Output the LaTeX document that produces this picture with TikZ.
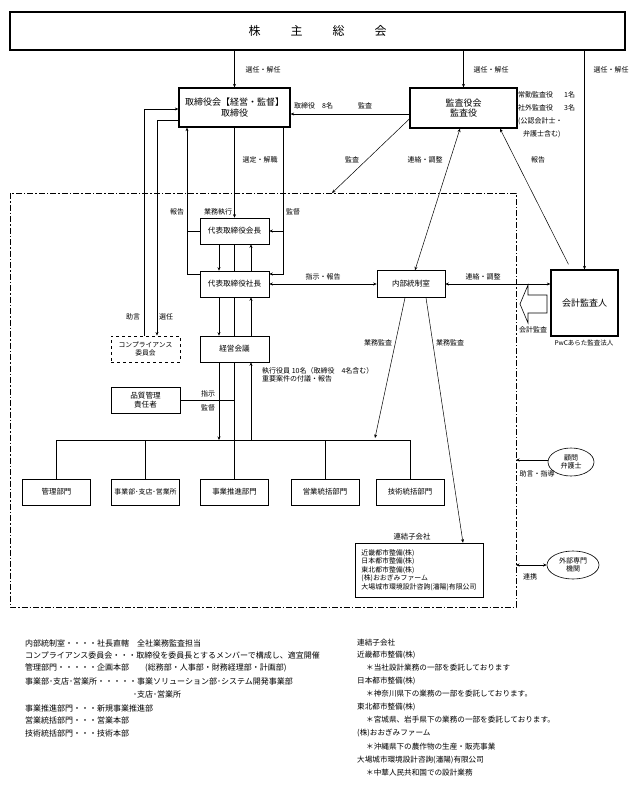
\documentclass[tikz,border=0pt]{standalone}
\usepackage{fontspec}
\setmainfont{Noto Sans CJK JP}
\usetikzlibrary{arrows.meta,shapes.geometric,calc}
\tikzset{
  box/.style={draw, line width=0.6pt, fill=white, minimum width=69pt, minimum height=26pt, inner sep=1pt, align=center, font=\fontsize{7.6}{9}\selectfont},
  tbox/.style={draw, line width=1.3pt, fill=white, inner sep=1pt, align=center, font=\fontsize{9}{10.5}\selectfont},
  dept/.style={box, minimum width=68pt, font=\fontsize{7.4}{9}\selectfont},
  lbl/.style={font=\fontsize{7}{8.5}\selectfont, inner sep=0pt},
  note/.style={font=\fontsize{7.6}{9}\selectfont, inner sep=0pt, anchor=west},
  lnote/.style={note, font=\fontsize{8}{9}\selectfont},
  arr/.style={-{Stealth[length=3.5pt,width=3pt]}, line width=0.5pt},
  arrr/.style={{Stealth[length=3.5pt,width=3pt]}-{Stealth[length=3.5pt,width=3pt]}, line width=0.5pt},
  ln/.style={line width=0.6pt},
  dashdotbox/.style={line width=0.9pt, dash pattern=on 6pt off 2pt on 1.5pt off 2pt},
  ell/.style={ellipse, draw, line width=0.6pt, fill=white, inner sep=0pt, align=center, font=\fontsize{7}{8.5}\selectfont}
}
\begin{document}
\begin{tikzpicture}[x=1pt,y=-1pt]
\useasboundingbox (0,0) rectangle (637,785);

% big dash-dot frame
\draw[dashdotbox] (10,193) rectangle (516,607);

% main nodes
\node[tbox, line width=1.5pt, minimum width=615pt, minimum height=38pt, font=\fontsize{12}{14}\selectfont] (sh) at (317.5,31) {株\hspace{30pt}主\hspace{30pt}総\hspace{30pt}会};
\node[tbox, minimum width=111pt, minimum height=39pt] (tb) at (234.5,107.5) {取締役会【経営・監督】\\取締役};
\node[tbox, minimum width=107pt, minimum height=40pt] (ka) at (463.5,108) {監査役会\\監査役};
\node[box] (kaicho) at (234.5,231) {代表取締役会長};
\node[box] (shacho) at (234.5,284) {代表取締役社長};
\node[box] (keiei) at (234.5,349) {経営会議};
\node[box, dashed, line width=0.9pt, font=\fontsize{6.8}{8.5}\selectfont] (comp) at (145.5,349) {コンプライアンス\\委員会};
\node[box] (hin) at (145.5,400) {品質管理\\責任者};
\node[box, minimum width=68pt, minimum height=27pt] (naibu) at (411,284) {内部統制室};
\node[tbox, minimum width=67pt, minimum height=66pt] (kaikei) at (584.5,303) {会計監査人};

% departments
\node[dept] (d1) at (56.5,492) {管理部門};
\node[dept, font=\fontsize{6.9}{9}\selectfont] (d2) at (145.5,492) {事業部･支店･営業所};
\node[dept] (d3) at (234.5,492) {事業推進部門};
\node[dept] (d4) at (325,492) {営業統括部門};
\node[dept] (d5) at (410,492) {技術統括部門};

% subsidiaries
\node[lbl, font=\fontsize{7.4}{9}\selectfont] (rent) at (412,537) {連結子会社};
\node[draw, line width=0.6pt, fill=white, minimum width=128pt, minimum height=54pt, align=left, inner sep=2pt, font=\fontsize{6.9}{8.4}\selectfont] (ren) at (419,570) {近畿都市整備(株)\\日本都市整備(株)\\東北都市整備(株)\\(株)おおぎみファーム\\大場城市環境設計咨詢(瀋陽)有限公司};

% ellipses
\node[ell, minimum width=46pt, minimum height=28pt] (komon) at (571,462) {顧問\\弁護士};
\node[ell, minimum width=52pt, minimum height=28pt] (gaibu) at (573,565) {外部専門\\機関};

% ---- connectors ----
% from shareholders meeting
\draw[arr] (sh.south -| tb.north) -- (tb.north);
\node[lbl] at (263,70) {選任・解任};
\draw[arr] (sh.south -| ka.north) -- (ka.north);
\node[lbl] at (491,70) {選任・解任};
\draw[arr] (sh.south -| kaikei.north) -- (kaikei.north);
\node[lbl] at (611,70) {選任・解任};

% audit board -> board
\draw[arr] ([yshift=-6pt]ka.west) -- ([yshift=-6pt]ka.west -| tb.east);
\node[lbl, anchor=west] at (294,106) {取締役　8名};
\node[lbl] at (365,106) {監査};

% audit board notes
\node[lbl, anchor=west] at (518,95) {常勤監査役\hspace{11pt}1名};
\node[lbl, anchor=west] at (518,108) {社外監査役\hspace{11pt}3名};
\node[lbl, anchor=west] at (518,121) {(公認会計士・};
\node[lbl, anchor=west] at (523,134) {弁護士含む)};

% audit board -> frame
\coordinate (bxa) at (332,193);
\draw[arr] ([yshift=-11pt]ka.west) -- (bxa);
\node[lbl] at (352,160) {監査};

% audit board <-> internal control
\draw[arrr] ([xshift=-3.5pt]ka.south) -- ([xshift=4pt]naibu.north);
\node[lbl] at (425,160) {連絡・調整};

% accounting auditor -> audit board
\draw[arr] ([xshift=-16pt,yshift=5pt]kaikei.north) -- ([xshift=36.5pt]ka.south);
\node[lbl] at (538,160) {報告};

% board -> chairman
\draw[arr] (tb.south) -- (kaicho.north);
\node[lbl] at (260,160) {選定・解職};
\node[lbl] at (218,212) {業務執行};

% supervision line
\coordinate (kt) at ([xshift=48.5pt]tb.south);
\draw[arr] (kt) |- ([yshift=10pt]shacho.east);
\draw[arr] (kaicho.east -| kt) -- (kaicho.east);
\node[lbl] at (293,212) {監督};

% report line
\coordinate (hl) at ([xshift=-47.5pt]tb.south);
\draw[arr] ([yshift=10pt]shacho.west) -| (hl);
\draw[ln] (kaicho.west) -- (kaicho.west -| hl);
\node[lbl] at (177,212) {報告};

% chairman <-> president
\draw[arr] ([xshift=-15.5pt]kaicho.south) -- ([xshift=-15.5pt]shacho.north);
\draw[ln] (kaicho.south) -- (shacho.north);
\draw[arr] ([xshift=16.5pt]shacho.north) -- ([xshift=16.5pt]kaicho.south);

% president <-> management meeting
\draw[arr] ([xshift=-15.5pt]shacho.south) -- ([xshift=-15.5pt]keiei.north);
\draw[ln] (shacho.south) -- (keiei.north);
\draw[arr] ([xshift=16.5pt]keiei.north) -- ([xshift=16.5pt]shacho.south);

% compliance <-> board
\draw[arr] ([xshift=-1.5pt]comp.north) |- ([yshift=-1.5pt]tb.west);
\draw[arr] ([yshift=-12.5pt]tb.west) -| ([xshift=11.5pt]comp.north);
\node[lbl] at (133,317) {助言};
\node[lbl] at (166,317) {選任};

% org bar
\coordinate (barL) at (56.5,440);
\coordinate (barR) at (410,440);
\draw[ln] (barL) -- (barR);
\foreach \d in {d1,d2,d4,d5} \draw[ln] (\d.north |- barL) -- (\d.north);
\draw[ln] (keiei.south) -- (d3.north);
\draw[arr] ([xshift=-15.5pt]keiei.south) -- ([xshift=-15.5pt]keiei.south |- barL);
\draw[arr] ([xshift=16.5pt]keiei.south |- barL) -- ([xshift=16.5pt]keiei.south);
\node[lbl, anchor=west, align=left] at (262,375) {執行役員 10名（取締役　4名含む）\\重要案件の付議・報告};

% quality manager
\draw[ln] (hin.east) -- (hin.east -| keiei.south);
\node[lbl] at (208,394) {指示};
\node[lbl] at (208,408) {監督};

% president <-> internal control
\draw[arrr] (shacho.east) -- (naibu.west);
\node[lbl] at (323,277) {指示・報告};
\draw[arrr] (naibu.east) -- (naibu.east -| kaikei.west);
\node[lbl] at (483,277) {連絡・調整};

% business audit
\coordinate (bar3) at (375,438);
\draw[arr] ([xshift=-6pt]naibu.south) -- (bar3);
\draw[arr] ([xshift=15pt]naibu.south) -- ([xshift=44pt]ren.north);
\node[lbl] at (378,343) {業務監査};
\node[lbl] at (450,343) {業務監査};

% hollow arrow (accounting audit)
\draw[line width=0.6pt, fill=white] (520,304) -- (528,285) -- (528,295) -- (547,295) -- (547,313) -- (528,313) -- (528,323) -- cycle;
\node[lbl] at (533,330) {会計監査};
\node[lbl, font=\fontsize{6.5}{8}\selectfont] at (584,343) {PwCあらた監査法人};

% advisors
\coordinate (bxk) at (516,460);
\draw[arr] (komon.west |- bxk) -- (bxk);
\node[lbl] at (537,474) {助言・指導};
\coordinate (bxg) at (516,565);
\draw[arrr] (bxg) -- (gaibu.west);
\node[lbl] at (530,577) {連携};

% ---- notes, left column ----
\node[lnote] at (25,643) {内部統制室・・・・社長直轄　全社業務監査担当};
\node[lnote] at (25,655) {コンプライアンス委員会・・・取締役を委員長とするメンバーで構成し、適宜開催};
\node[lnote] at (25,668) {管理部門・・・・・企画本部　　(総務部・人事部・財務経理部・計画部)};
\node[lnote] at (25,681) {事業部･支店･営業所・・・・・事業ソリューション部･システム開発事業部};
\node[lnote] at (133,694) {･支店･営業所};
\node[lnote] at (25,708) {事業推進部門・・・新規事業推進部};
\node[lnote] at (25,720) {営業統括部門・・・営業本部};
\node[lnote] at (25,733) {技術統括部門・・・技術本部};

% ---- notes, right column ----
\node[note] at (357,643) {連結子会社};
\node[note] at (357,655) {近畿都市整備(株)};
\node[note] at (366,668) {＊当社設計業務の一部を委託しております};
\node[note] at (357,681) {日本都市整備(株)};
\node[note] at (366,694) {＊神奈川県下の業務の一部を委託しております。};
\node[note] at (357,707) {東北都市整備(株)};
\node[note] at (366,720) {＊宮城県、岩手県下の業務の一部を委託しております。};
\node[note] at (357,733) {(株)おおぎみファーム};
\node[note] at (366,747) {＊沖縄県下の農作物の生産・販売事業};
\node[note] at (357,760) {大場城市環境設計咨詢(瀋陽)有限公司};
\node[note] at (366,773) {＊中華人民共和国での設計業務};
\end{tikzpicture}
\end{document}
